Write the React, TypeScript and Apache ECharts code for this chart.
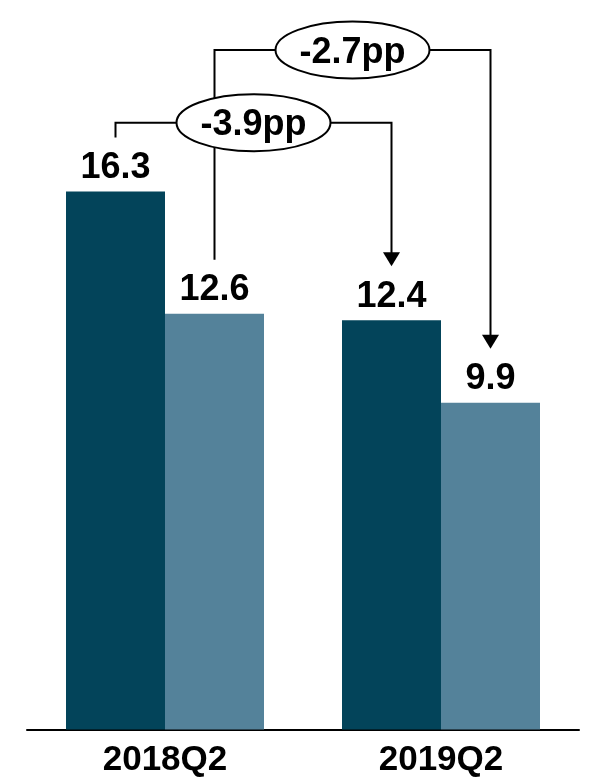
import React, { useEffect, useRef } from "react";
import * as echarts from "echarts";

// Quarter categories and the two series shown per quarter
const categories = ["2018Q2", "2019Q2"];
const seriesDark = [16.3, 12.4];
const seriesLight = [12.6, 9.9];
// Change bubbles: dark series change, light series change
const changeLabels = ["-3.9pp", "-2.7pp"];

const DARK = "#03445A";
const LIGHT = "#54829A";
const FONT = 'Arial, "Liberation Sans", sans-serif';
const BAR_W = 99;

export default function App() {
  const ref = useRef<HTMLDivElement>(null);

  useEffect(() => {
    if (!ref.current) return;
    const chart = echarts.init(ref.current, undefined, { renderer: "svg" });
    const label = {
      show: true,
      position: "top" as const,
      distance: 8,
      fontSize: 36,
      fontWeight: "bold" as const,
      fontFamily: FONT,
      color: "#000",
    };
    chart.setOption({
      animation: false,
      grid: { left: 27, right: 11, top: 69.5, bottom: 48.5 },
      xAxis: {
        type: "category",
        data: categories,
        axisLine: { lineStyle: { color: "#000", width: 2 } },
        axisTick: { show: false },
        axisLabel: {
          fontSize: 35,
          lineHeight: 30,
          fontWeight: "bold",
          fontFamily: FONT,
          color: "#000",
          margin: 13,
        },
      },
      yAxis: {
        type: "value",
        min: 0,
        max: 20,
        show: false,
        splitLine: { show: false },
      },
      series: [
        {
          type: "bar",
          data: seriesDark,
          barWidth: BAR_W,
          barGap: "0%",
          itemStyle: { color: DARK },
          label,
        },
        {
          type: "bar",
          data: seriesLight,
          barWidth: BAR_W,
          barGap: "0%",
          itemStyle: { color: LIGHT },
          label,
        },
      ],
    });

    // Bracket connectors with an ellipse bubble and a downward arrow
    const pt = (cat: number, v: number, side: number) => {
      const p = chart.convertToPixel({ gridIndex: 0 }, [cat, v]) as number[];
      return [p[0] + (side * BAR_W) / 2, p[1]];
    };
    const GAP = 54;
    const brackets = [
      { values: seriesDark, side: -1, level: 122.7, text: changeLabels[0] },
      { values: seriesLight, side: 1, level: 50, text: changeLabels[1] },
    ];
    const graphics: any[] = [];
    brackets.forEach((b) => {
      const a = pt(0, b.values[0], b.side);
      const c = pt(1, b.values[1], b.side);
      const startY = a[1] - GAP;
      const tipY = c[1] - GAP;
      const line = { stroke: "#000", lineWidth: 2, fill: "none" };
      graphics.push({
        type: "polyline",
        shape: {
          points: [
            [a[0], startY],
            [a[0], b.level],
            [c[0], b.level],
            [c[0], tipY - 12],
          ],
        },
        style: line,
        z: 10,
      });
      graphics.push({
        type: "polygon",
        shape: {
          points: [
            [c[0] - 8.5, tipY - 14],
            [c[0] + 8.5, tipY - 14],
            [c[0], tipY],
          ],
        },
        style: { fill: "#000" },
        z: 10,
      });
      const cx = (a[0] + c[0]) / 2;
      graphics.push({
        type: "ellipse",
        shape: { cx, cy: b.level, rx: 77, ry: 28.5 },
        style: { fill: "#fff", stroke: "#000", lineWidth: 2 },
        z: 11,
      });
      graphics.push({
        type: "text",
        x: cx,
        y: b.level,
        style: {
          text: b.text,
          fontSize: 36,
          fontWeight: "bold",
          fontFamily: FONT,
          fill: "#000",
          align: "center",
          verticalAlign: "middle",
        },
        z: 12,
      });
    });
    chart.setOption({ graphic: graphics });

    return () => chart.dispose();
  }, []);

  return (
    <div
      ref={ref}
      style={{ position: "fixed", left: 0, top: 0, width: 590, height: 778 }}
    />
  );
}
